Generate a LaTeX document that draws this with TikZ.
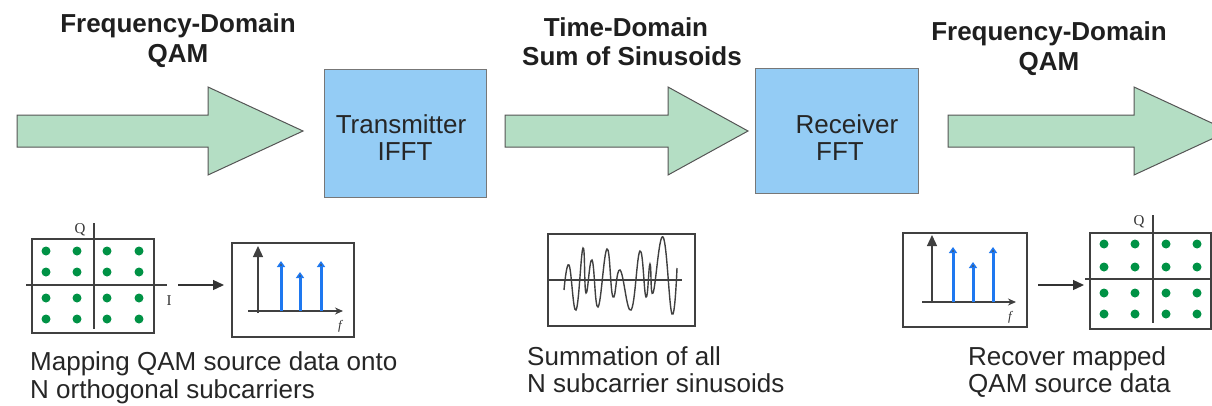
\documentclass[tikz,border=0pt]{standalone}
\usepackage{fontspec}
\setmainfont{Liberation Sans}
\newfontfamily\serifl{Liberation Serif}
\usetikzlibrary{arrows.meta}
\definecolor{arrgreen}{RGB}{180,222,196}
\definecolor{boxblue}{RGB}{148,204,245}
\definecolor{dotgreen}{RGB}{0,146,69}
\definecolor{specblue}{RGB}{30,120,240}
\definecolor{edgegray}{RGB}{85,85,85}
\begin{document}
\begin{tikzpicture}[x=1pt,y=-1pt,
  bigarrow/.style={fill=arrgreen, draw=edgegray, line width=1pt, line join=miter},
  procbox/.style={draw=edgegray!80, fill=boxblue, line width=1pt, inner sep=0},
  frame/.style={draw=black!75, line width=1.6pt, inner sep=0},
  axis/.style={draw=black!75, line width=1.3pt},
  dot/.style={circle, fill=dotgreen, inner sep=0, minimum size=9pt},
  toplbl/.style={font=\bfseries\fontsize{26}{28}\selectfont, anchor=base, inner sep=0, text=black!88},
  botlbl/.style={font=\fontsize{26}{28}\selectfont, anchor=base west, inner sep=0, text=black!85},
  boxlbl/.style={font=\fontsize{26}{28}\selectfont, anchor=base, inner sep=0, text=black!85},
  spike/.style={specblue, line width=3pt, -{Triangle[length=6pt,width=8pt,color=specblue,fill=black!70]}},
  smallarr/.style={black!80, line width=1.3pt, -{Triangle[length=11pt,width=10pt]}},
  axl/.style={font=\serifl\fontsize{15}{15}\selectfont, inner sep=0, text=black!80},
  fl/.style={font=\serifl\itshape\fontsize{13}{13}\selectfont, inner sep=0, text=black!80}
]
\useasboundingbox (0,0) rectangle (1212,405);
\clip (0,0) rectangle (1212,405);

% block arrows
\draw[bigarrow] (17,115) -- (208,115) -- (208,87) -- (303,131) -- (208,175) -- (208,147) -- (17,147) -- cycle;
\draw[bigarrow] (505,115) -- (668,115) -- (668,87) -- (748,131) -- (668,175) -- (668,147) -- (505,147) -- cycle;
\draw[bigarrow] (948,115) -- (1134,115) -- (1134,87) -- (1229,131) -- (1134,175) -- (1134,147) -- (948,147) -- cycle;

% processing boxes
\node[procbox, minimum width=162pt, minimum height=128pt] (tx) at (405,133) {};
\node[boxlbl] (txa) at (401,133) {Transmitter};
\node[boxlbl] (txb) at (405,160) {IFFT};
\node[procbox, minimum width=163pt, minimum height=125pt] (rx) at (836.5,130.5) {};
\node[boxlbl] (rxa) at (847,133) {Receiver};
\node[boxlbl] (rxb) at (840,160) {FFT};

% top labels
\node[toplbl] (t1a) at (178,32) {Frequency-Domain};
\node[toplbl] (t1b) at (178,62) {QAM};
\node[toplbl] (t2a) at (626,36) {Time-Domain};
\node[toplbl] (t2b) at (632,65) {Sum of Sinusoids};
\node[toplbl] (t3a) at (1049,40) {Frequency-Domain};
\node[toplbl] (t3b) at (1049,70) {QAM};

% left QAM constellation
\node[frame, minimum width=122pt, minimum height=94pt] (qam1) at (93,286) {};
\draw[axis] (94,223) -- (94,329);
\draw[axis] (26,285) -- (167,285);
\node[axl] (q1) at (80,230) {Q};
\node[axl] (i1) at (169,301) {I};
\foreach \x in {46,77,107,139}
  \foreach \y in {251,272,298,319}
    \node[dot] (dl-\x-\y) at (\x,\y) {};

% left spectrum
\node[frame, minimum width=122pt, minimum height=94pt] (sp1) at (293,290) {};
\draw[axis, -{Triangle[length=11pt,width=10pt]}] (258,313) -- (258,246);
\draw[axis, -{Stealth[length=8pt,width=7pt]}] (248,311) -- (343,311);
\draw[spike] (281,311) -- (281,261);
\draw[spike] (300,311) -- (300,272);
\draw[spike] (321,311) -- (321,261);
\node[fl] (f1) at (340,326) {f};

\coordinate (m1s) at (178,285);
\coordinate (m1e) at (224,285);
\draw[smallarr] (m1s) -- (m1e);

% wave
\node[frame, minimum width=147pt, minimum height=92pt] (wave) at (621.5,280) {};
\draw[axis] (548,280) -- (682,280);
\draw[black!75, line width=1.4pt] plot[smooth, tension=0.75] coordinates {
 (564,290) (569,265) (576,310) (583,248) (586,293) (592,260) (598,307)
 (607,249) (613,297) (620,270) (631,310) (640,251) (646,297) (650,264)
 (653,293) (663,237) (672,314) (677,268)};

% right spectrum
\node[frame, minimum width=124pt, minimum height=94pt] (sp2) at (965,280) {};
\draw[axis, -{Triangle[length=11pt,width=10pt]}] (932,303) -- (932,235);
\draw[axis, -{Stealth[length=8pt,width=7pt]}] (922,302) -- (1016,302);
\draw[spike] (953,302) -- (953,247);
\draw[spike] (973,302) -- (973,262);
\draw[spike] (993,302) -- (993,247);
\node[fl] (f2) at (1010,317) {f};

\coordinate (m2s) at (1038,285);
\coordinate (m2e) at (1084,285);
\draw[smallarr] (m2s) -- (m2e);

% right QAM constellation
\node[frame, minimum width=121pt, minimum height=96pt] (qam2) at (1150.5,281) {};
\draw[axis] (1153,215) -- (1153,323);
\draw[axis] (1085,279) -- (1212,279);
\node[axl] (q2) at (1139,222) {Q};
\foreach \x in {1104,1135,1166,1197}
  \foreach \y in {244,267,293,314}
    \node[dot] (dr-\x-\y) at (\x,\y) {};

% bottom labels
\node[botlbl] (b1a) at (30,370) {Mapping QAM source data onto};
\node[botlbl] (b1b) at (30,398) {N orthogonal subcarriers};
\node[botlbl] (b2a) at (527,365) {Summation of all};
\node[botlbl] (b2b) at (527,392) {N subcarrier sinusoids};
\node[botlbl] (b3a) at (968,365) {Recover mapped};
\node[botlbl] (b3b) at (968,392) {QAM source data};
\end{tikzpicture}
\end{document}
